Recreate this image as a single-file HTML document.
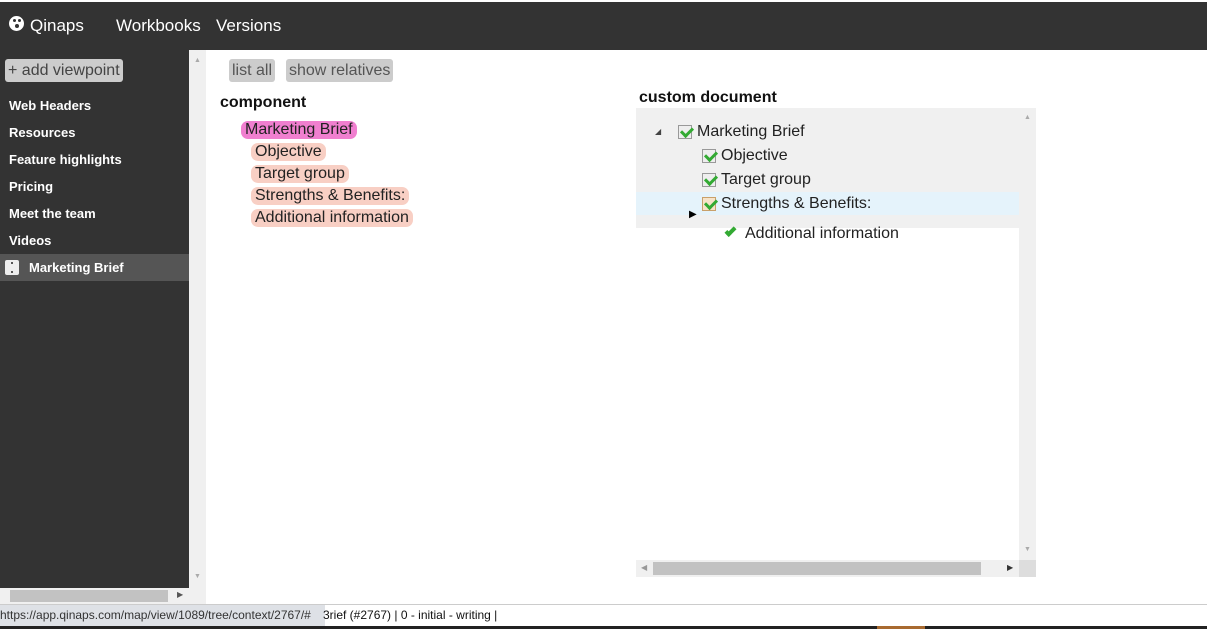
<!DOCTYPE html>
<html><head><meta charset="utf-8"><style>
*{margin:0;padding:0;box-sizing:border-box}
body{width:1207px;height:629px;overflow:hidden;background:#fff;font-family:"Liberation Sans",Arial,sans-serif;position:relative}
.a{position:absolute}
.top{left:0;top:2px;width:1207px;height:48px;background:#333}
.top span{position:absolute;color:#fff;font-size:17px;top:14px}
.side{left:0;top:50px;width:189px;height:538px;background:#333}
.nav{position:absolute;left:9px;color:#fff;font-size:13px;font-weight:bold}
.btn{background:#ccc;color:#555;font-size:16px;border-radius:3px;padding:1px 3px;position:absolute;height:23px;line-height:21px}
.pill{position:absolute;font-size:16px;color:#222;border-radius:7px;padding:0 4px;height:18px;line-height:18px;background:#f8cfc4}
.t{position:absolute;font-size:16px;color:#222}
.cb{position:absolute;width:14px;height:14px;border:1px solid #999;background:#eee}
.cb:after{content:"";position:absolute;left:2px;top:1px;width:9px;height:5px;border-left:3px solid #3a3;border-bottom:3px solid #3a3;transform:rotate(-45deg)}
</style></head><body>
<div class="a top">
<span style="left:9px;top:14px;width:15px;height:15px;border-radius:50%;background:#fff"></span>
<span style="left:13px;top:17px;width:3px;height:3px;border-radius:50%;background:#333"></span>
<span style="left:18px;top:17px;width:3px;height:3px;border-radius:50%;background:#333"></span>
<span style="left:15px;top:22px;width:4px;height:4px;border-radius:50%;background:#333"></span>
<span style="left:30px">Qinaps</span>
<span style="left:116px">Workbooks</span>
<span style="left:216px">Versions</span>
</div>
<div class="a side">
<div class="btn" style="left:5px;top:9px;color:#444;background:#ccc">+ add viewpoint</div>
<div class="nav" style="top:48px">Web Headers</div>
<div class="nav" style="top:75px">Resources</div>
<div class="nav" style="top:102px">Feature highlights</div>
<div class="nav" style="top:129px">Pricing</div>
<div class="nav" style="top:156px">Meet the team</div>
<div class="nav" style="top:183px">Videos</div>
<div class="a" style="left:0;top:204px;width:189px;height:27px;background:#555"></div>
<div class="a" style="left:5px;top:210px;width:14px;height:15px;background:#eee;border-radius:2px"></div>
<div class="a" style="left:11px;top:212px;width:2px;height:11px;border-top:2px solid #555;border-bottom:2px solid #555"></div>
<div class="nav" style="top:210px;left:29px;font-weight:bold">Marketing Brief</div>
</div>
<div class="a" style="left:189px;top:50px;width:17px;height:554px;background:#f0f0f0"></div>
<div class="a" style="left:194px;top:57px;font-size:7px;color:#aaa">▲</div>
<div class="a" style="left:194px;top:573px;font-size:7px;color:#aaa">▼</div>
<div class="a" style="left:0;top:588px;width:189px;height:16px;background:#f0f0f0"></div>
<div class="a" style="left:10px;top:590px;width:158px;height:12px;background:#c2c2c2"></div>
<div class="a" style="left:177px;top:590px;font-size:8px;color:#555">▶</div>

<div class="btn" style="left:229px;top:59px">list all</div>
<div class="btn" style="left:286px;top:59px">show relatives</div>
<div class="t" style="left:220px;top:94px;font-weight:bold;color:#111">component</div>
<div class="pill" style="left:241px;top:121px;background:#f07fcf">Marketing Brief</div>
<div class="pill" style="left:251px;top:143px">Objective</div>
<div class="pill" style="left:251px;top:165px">Target group</div>
<div class="pill" style="left:251px;top:187px">Strengths &amp; Benefits:</div>
<div class="pill" style="left:251px;top:209px">Additional information</div>

<div class="t" style="left:639px;top:89px;font-weight:bold;color:#111">custom document</div>
<div class="a" style="left:636px;top:108px;width:383px;height:120px;background:#f0f0f0"></div>
<div class="a" style="left:636px;top:192px;width:383px;height:23px;background:#e5f3fb"></div>
<div class="a" style="left:1019px;top:108px;width:17px;height:469px;background:#f0f0f0"></div>
<div class="a" style="left:1024px;top:114px;font-size:7px;color:#aaa">▲</div>
<div class="a" style="left:1024px;top:546px;font-size:7px;color:#aaa">▼</div>
<div class="a" style="left:636px;top:560px;width:383px;height:17px;background:#f0f0f0"></div>
<div class="a" style="left:1019px;top:560px;width:17px;height:17px;background:#ddd"></div>
<div class="a" style="left:653px;top:562px;width:328px;height:13px;background:#c2c2c2"></div>
<div class="a" style="left:641px;top:563px;font-size:8px;color:#999">◀</div>
<div class="a" style="left:1007px;top:563px;font-size:8px;color:#333">▶</div>
<div class="a" style="left:655px;top:127px;font-size:8px;color:#444">◢</div>
<div class="cb" style="left:678px;top:125px"></div><div class="t" style="left:697px;top:123px">Marketing Brief</div>
<div class="cb" style="left:702px;top:149px"></div><div class="t" style="left:721px;top:147px">Objective</div>
<div class="cb" style="left:702px;top:173px"></div><div class="t" style="left:721px;top:171px">Target group</div>
<div class="cb" style="left:702px;top:197px;border-color:#c9a06a;background:#f7e3c8"></div><div class="t" style="left:721px;top:195px">Strengths &amp; Benefits:</div>
<div class="a" style="left:689px;top:209px;font-size:10px;color:#000">▶</div>
<div class="a" style="left:725px;top:228px;width:11px;height:6px;border-left:4px solid #3a3;border-bottom:4px solid #3a3;transform:rotate(-45deg)"></div>
<div class="t" style="left:745px;top:225px">Additional information</div>

<div class="a" style="left:0;top:604px;width:1207px;height:1px;background:#ccc"></div>
<div class="a" style="left:0;top:605px;width:325px;height:21px;background:#dee1e6;font-size:12px;color:#333;line-height:21px;white-space:nowrap;overflow:hidden">https://app.qinaps.com/map/view/1089/tree/context/2767/#</div>
<div class="a" style="left:323px;top:605px;font-size:12px;line-height:21px;color:#111;white-space:nowrap">3rief (#2767) | 0 - initial - writing |</div>
<div class="a" style="left:0;top:626px;width:1207px;height:3px;background:#222"></div>
<div class="a" style="left:877px;top:626px;width:48px;height:3px;background:#a86a30"></div>
</body></html>
